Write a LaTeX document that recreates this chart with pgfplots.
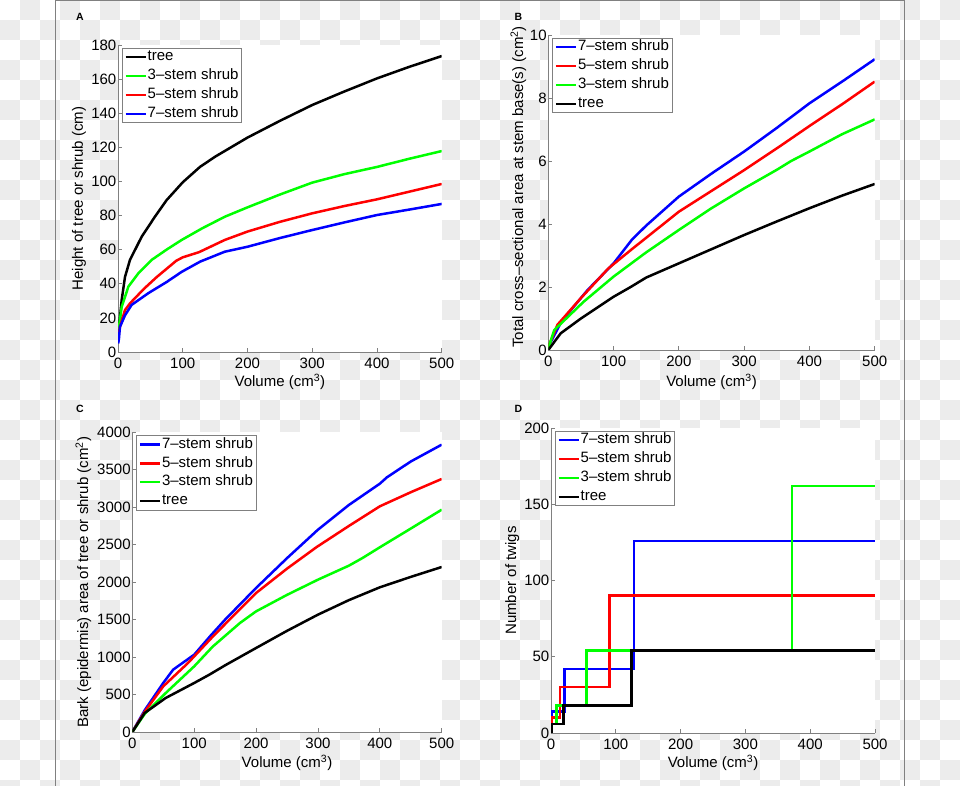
\documentclass[border=0pt]{standalone}
\usepackage{fontspec}
\setmainfont{Liberation Sans}
\usepackage{pgfplots}
\pgfplotsset{compat=1.18}
\definecolor{axgray}{gray}{0.5}
\definecolor{chk}{gray}{0.925}
\pgfplotsset{
 cv/.style={line width=2.5bp},
 myax/.style={
  scale only axis,
  anchor=south west,
  axis x line*=bottom, axis y line*=left,
  axis line style={axgray, line width=0.8bp},
  tick style={axgray, line width=0.8bp},
  major tick length=3.5bp,
  tick align=inside,
  font=\fontsize{15bp}{18bp}\selectfont,
  /pgf/number format/assume math mode=true,
  /pgf/number format/1000 sep={},
  axis background/.style={fill=white},
  xmin=0, xmax=500, xtick={0,100,...,500},
  legend cell align=left,
  legend style={draw=axgray, line width=0.8bp, fill=white, at={(0,1)}, anchor=north west,
    xshift=3.5bp, yshift=-2.7bp, inner xsep=2.5bp, inner ysep=1bp, row sep=2.8bp,
    font=\fontsize{15bp}{18bp}\selectfont,
    nodes={inner sep=0.8bp, text height=11bp, text depth=3.5bp}},
  legend image code/.code={\draw[#1, line width=2.5bp] (0bp,0bp) -- (20bp,0bp);},
  xlabel={Volume (cm\textsuperscript{3})},
  yticklabel style={inner sep=1.5bp},
  xticklabel style={inner sep=2bp, yshift=-4bp},
 }
}
\begin{document}
\begin{tikzpicture}[x=1bp,y=1bp]
\path[use as bounding box] (0,0) rectangle (960,786);
\foreach \j in {0,...,39}{
 \foreach \k in {0,...,23}{
  \pgfmathsetmacro\xx{20*(2*\k+1-mod(\j,2))}
  \fill[chk] (\xx,786-20*\j) rectangle ++(20,-20);
 }
}
\draw[axgray, line width=1bp] (55.3,0) -- (55.3,785.5) -- (904.3,785.5) -- (904.3,0);

% Panel A
\begin{axis}[myax, at={(118bp,434bp)}, width=323.7bp, height=307bp,
  ymin=0, ymax=180, ytick={0,20,...,180},
  ylabel={Height of tree or shrub (cm)},
  ylabel style={at={(axis description cs:-0.1205,0.5)}, anchor=center},
  xlabel style={at={(axis description cs:0.5,-0.0977)}, anchor=center}]
\addplot[cv, black] coordinates {(0.3,10) (1,14) (3,20) (5.7,30.5) (10.8,44) (18.5,54) (36.6,67.6) (57,79.3) (75,89) (100,99.5) (126.6,108.5) (150,114.5) (200,125.7) (250,135.5) (300,144.8) (350,152.8) (400,160.4) (450,167.2) (500,173.5)};
\addlegendentry{tree}
\addplot[cv, green] coordinates {(0.3,10) (1.5,14.7) (5.7,26.4) (16,38.3) (31.4,46.1) (52,54) (75,60) (98.4,65.7) (130,72.5) (165,79.3) (200,84.8) (250,92.3) (300,99.3) (350,104.3) (400,108.5) (450,113.3) (500,117.8)};
\addlegendentry{3--stem shrub}
\addplot[cv, red] coordinates {(0.3,9) (3,14.7) (10.8,24.6) (18.5,28.5) (40,37) (60,44) (90,53.5) (100,55.5) (125,58.5) (165,65.7) (200,70.6) (250,76.3) (300,81.3) (350,85.6) (400,89.5) (450,94) (500,98.5)};
\addlegendentry{5--stem shrub}
\addplot[cv, blue] coordinates {(0.3,5) (1.5,8) (3,14.7) (10.8,21.5) (21,27.6) (46.9,34.5) (75,41) (98.4,47) (127,53) (165,58.8) (200,61.7) (250,66.8) (300,71.5) (350,76) (400,80.3) (450,83.5) (500,86.8)};
\addlegendentry{7--stem shrub}
\end{axis}

% Panel B
\begin{axis}[myax, at={(548.3bp,436bp)}, width=326.4bp, height=315bp,
  ymin=0, ymax=10, ytick={0,2,...,10},
  ylabel={Total cross--sectional area at stem base(s) (cm\textsuperscript{2})},
  ylabel style={at={(axis description cs:-0.0919,0.518)}, anchor=center},
  xlabel style={at={(axis description cs:0.5,-0.1006)}, anchor=center}]
\addplot[cv, blue] coordinates {(0,0.1) (20,0.9) (60,1.9) (100,2.75) (128,3.5) (150,3.95) (200,4.87) (250,5.6) (300,6.3) (350,7.05) (400,7.83) (450,8.52) (500,9.23)};
\addlegendentry{7--stem shrub}
\addplot[cv, red] coordinates {(0,0.1) (14,0.8) (50,1.65) (92,2.59) (128,3.2) (200,4.39) (250,5.05) (300,5.71) (350,6.4) (400,7.11) (450,7.8) (500,8.52)};
\addlegendentry{5--stem shrub}
\addplot[cv, green] coordinates {(0,0.05) (9,0.63) (30,1.05) (54,1.53) (100,2.33) (150,3.1) (200,3.81) (250,4.5) (300,5.13) (350,5.72) (372,6.0) (400,6.3) (450,6.85) (500,7.32)};
\addlegendentry{3--stem shrub}
\addplot[cv, black] coordinates {(0,0) (19,0.53) (50,1.0) (100,1.69) (127,2.01) (150,2.3) (200,2.75) (250,3.2) (300,3.65) (350,4.08) (400,4.5) (450,4.9) (500,5.27)};
\addlegendentry{tree}
\end{axis}

% Panel C
\begin{axis}[myax, at={(132.3bp,54bp)}, width=309.4bp, height=299.7bp,
  ymin=0, ymax=4000, ytick={0,500,...,4000},
  ylabel={Bark (epidermis) area of tree or shrub (cm\textsuperscript{2})},
  ylabel style={at={(axis description cs:-0.158,0.5)}, anchor=center},
  xlabel style={at={(axis description cs:0.5,-0.1034)}, anchor=center}]
\addplot[cv, blue] coordinates {(0,0) (20,290) (50,654) (66,832) (100,1032) (127,1290) (150,1500) (200,1922) (250,2320) (300,2700) (350,3030) (400,3314) (411.6,3400) (450,3610) (500,3835)};
\addlegendentry{7--stem shrub}
\addplot[cv, red] coordinates {(0,0) (20,270) (50,609) (90,921) (128,1255) (150,1440) (200,1855) (250,2180) (298,2469) (350,2750) (400,3012) (450,3200) (500,3377)};
\addlegendentry{5--stem shrub}
\addplot[cv, green] coordinates {(0,0) (20,240) (54,520) (100,876) (130,1140) (174,1455) (200,1610) (250,1830) (300,2033) (350,2220) (372,2322) (400,2465) (450,2715) (500,2967)};
\addlegendentry{3--stem shrub}
\addplot[cv, black] coordinates {(0,0) (20,254) (54,454) (100,654) (124.5,765) (150,890) (200,1121) (250,1350) (300,1566) (350,1760) (400,1931) (450,2070) (500,2202)};
\addlegendentry{tree}
\end{axis}

% Panel D
\begin{axis}[myax, at={(551bp,53bp)}, width=324bp, height=305bp,
  ymin=0, ymax=200, ytick={0,50,...,200},
  ylabel={Number of twigs},
  ylabel style={at={(axis description cs:-0.1194,0.5)}, anchor=center},
  xlabel style={at={(axis description cs:0.5,-0.0984)}, anchor=center}]
\addplot[cv, blue, const plot] coordinates {(0,0) (1.5,14) (20.5,42) (128,126) (500,126)};
\addlegendentry{7--stem shrub}
\addplot[cv, red, const plot] coordinates {(0,0) (1.5,10) (14,30) (90.5,90) (500,90)};
\addlegendentry{5--stem shrub}
\addplot[cv, green, const plot] coordinates {(0,0) (1,6) (8.7,18) (54.5,54) (372,162) (500,162)};
\addlegendentry{3--stem shrub}
\addplot[cv, black, const plot] coordinates {(0,0) (1,6) (19,18) (124.5,54) (500,54)};
\addlegendentry{tree}
\end{axis}

\node[font=\bfseries\fontsize{10.5bp}{12bp}\selectfont] at (80,769.5) {A};
\node[font=\bfseries\fontsize{10.5bp}{12bp}\selectfont] at (518.3,769.5) {B};
\node[font=\bfseries\fontsize{10.5bp}{12bp}\selectfont] at (80,377.3) {C};
\node[font=\bfseries\fontsize{10.5bp}{12bp}\selectfont] at (518.3,377.3) {D};
\end{tikzpicture}
\end{document}
